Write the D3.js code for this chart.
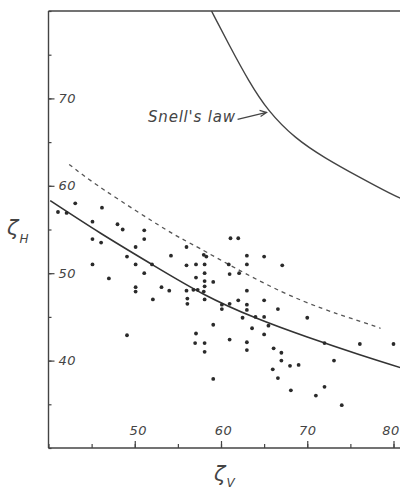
<!DOCTYPE html>
<html>
	<head>
		<meta charset = "utf-8">
		<script src = "https://cdn.jsdelivr.net/npm/d3@7/dist/d3.min.js"></script>
		<style>
			body { margin: 0; background: #fff; }
			text { font-family: "DejaVu Sans", sans-serif; font-style: italic; fill: #444; }
		</style>
	</head>
	<body>
		<script>
			"use strict";

			// scattered observations (zeta V, zeta H)
			var zetaV = [41.1, 42.1, 43.1, 46.2, 45.1, 48.0, 48.6, 51.1, 45.1, 46.1,
						 51.1, 50.1, 49.1, 45.1, 50.1, 52.0, 47.0, 51.1, 50.1, 50.1,
						 53.1, 54.0, 52.1, 49.1, 54.2, 56.0, 56.0, 57.1, 58.1, 58.0,
						 58.3, 61.1, 62.0, 63.0, 65.0, 67.1, 60.9, 63.0, 61.0, 62.1,
						 58.1, 57.1, 59.1, 56.0, 56.8, 57.3, 63.0, 58.1, 58.1, 58.0,
						 56.1, 56.1, 58.1, 62.0, 65.0, 60.1, 60.1, 61.0, 63.0, 63.0,
						 66.6, 62.5, 64.0, 65.0, 70.0, 59.1, 63.6, 65.5, 65.0, 57.1,
						 57.0, 58.1, 61.0, 63.0, 58.1, 63.0, 66.1, 67.0, 67.0, 68.0,
						 69.0, 66.0, 66.6, 59.1, 68.1, 71.0, 72.0, 76.1, 80.0, 73.1,
						 72.0, 74.0];
			var zetaH = [57.0, 56.9, 58.0, 57.5, 55.9, 55.6, 55.0, 54.9, 53.9, 53.5,
						 53.9, 53.0, 51.9, 51.0, 51.0, 51.0, 49.4, 50.0, 48.4, 47.9,
						 48.4, 48.0, 47.0, 42.9, 52.0, 53.0, 50.9, 51.0, 51.0, 52.1,
						 51.9, 54.0, 54.0, 52.0, 51.9, 50.9, 51.0, 51.0, 49.9, 50.0,
						 50.0, 49.5, 49.0, 48.0, 48.1, 48.1, 48.0, 49.1, 48.5, 47.9,
						 47.1, 46.5, 47.0, 46.9, 46.9, 46.4, 45.9, 46.5, 46.4, 45.8,
						 45.9, 44.9, 45.0, 45.0, 44.9, 44.1, 43.7, 44.0, 43.0, 43.1,
						 42.0, 42.0, 42.4, 42.1, 41.0, 41.2, 41.4, 40.9, 40.0, 39.4,
						 39.5, 39.0, 38.0, 37.9, 36.6, 36.0, 42.0, 41.9, 41.9, 40.0,
						 37.0, 34.9];

			// Snell's law curve
			var snellV = [58.9, 61.0, 63.2, 65.4, 68.6, 72.0, 76.0, 80.0, 81.0];
			var snellH = [80.0, 76.0, 72.0, 68.6, 65.4, 63.2, 61.0, 58.9, 58.5];

			// solid fitted curve
			var fitV = [40.2, 46.0, 52.0, 58.0, 64.0, 70.0, 76.0, 80.8];
			var fitH = [58.3, 54.6, 51.0, 47.6, 44.9, 42.7, 40.7, 39.2];

			// dashed curve
			var dashV = [42.4, 46.5, 53.6, 57.6, 67.0, 75.2, 78.5];
			var dashH = [62.45, 59.5, 55.0, 52.8, 47.9, 44.8, 43.7];

			var xTicks = [40, 45, 50, 55, 60, 65, 70, 75, 80];
			var xLabels = [50, 60, 70, 80];
			var xLabelShift = [3, 2, 0, -3];
			var yTicks = [30, 35, 40, 45, 50, 55, 60, 65, 70, 75, 80];
			var yLabels = [40, 50, 60, 70];

			var width = 400, height = 490;

			var svg = d3.select("body")
						.append("svg")
						.attr("width", width)
						.attr("height", height);

			var x = d3.scaleLinear().domain([40, 80]).range([48.5, 393.5]);
			var y = d3.scaleLinear().domain([30, 80]).range([448, 11]);

			// frame
			var frame = svg.append("g").attr("stroke", "#444").attr("stroke-width", 1.4).attr("fill", "none");
			frame.append("line").attr("x1", x(40)).attr("y1", y(80)).attr("x2", x(40)).attr("y2", y(30));
			frame.append("line").attr("x1", x(40)).attr("y1", y(80)).attr("x2", width).attr("y2", y(80));
			frame.append("line").attr("x1", x(40)).attr("y1", y(30)).attr("x2", width).attr("y2", y(30));

			// x ticks point up, labels sit inside the plot
			var xMinor = svg.append("g")
							.attr("transform", "translate(0," + y(30) + ")")
							.call(d3.axisTop(x).tickValues(xTicks).tickSize(4).tickFormat(""));
			var xMajor = svg.append("g")
							.attr("transform", "translate(0," + y(30) + ")")
							.call(d3.axisTop(x).tickValues(xLabels).tickSize(7).tickPadding(6).tickFormat(d3.format("d")));

			var yMinor = svg.append("g")
							.attr("transform", "translate(" + x(40) + ",0)")
							.call(d3.axisRight(y).tickValues(yTicks).tickSize(3).tickFormat(""));
			var yMajor = svg.append("g")
							.attr("transform", "translate(" + x(40) + ",0)")
							.call(d3.axisRight(y).tickValues(yLabels).tickSize(6).tickPadding(4).tickFormat(d3.format("d")));

			svg.selectAll(".domain").remove();
			svg.selectAll(".tick line").attr("stroke", "#444").attr("stroke-width", 1.2);
			svg.selectAll(".tick text")
				.attr("font-size", 13)
				.attr("font-family", "DejaVu Sans")
				.attr("font-style", "italic")
				.attr("fill", "#444")
				.style("letter-spacing", "0.5px");
			xMajor.selectAll(".tick text").attr("dx", function(d, i){ return xLabelShift[i]; });

			function pts(a, b){
				return a.map(function(v, i){ return [v, b[i]]; });
			}

			var line = d3.line()
						.x(function(d){ return x(d[0]); })
						.y(function(d){ return y(d[1]); })
						.curve(d3.curveNatural);

			var smooth = d3.line()
						.x(function(d){ return x(d[0]); })
						.y(function(d){ return y(d[1]); })
						.curve(d3.curveBasis);

			svg.append("path")
				.attr("d", smooth(pts(snellV, snellH)))
				.attr("fill", "none")
				.attr("stroke", "#444")
				.attr("stroke-width", 1.4);

			svg.append("path")
				.attr("d", line(pts(fitV, fitH)))
				.attr("fill", "none")
				.attr("stroke", "#333")
				.attr("stroke-width", 1.6);

			svg.append("path")
				.attr("d", line(pts(dashV, dashH)))
				.attr("fill", "none")
				.attr("stroke", "#555")
				.attr("stroke-width", 1.3)
				.attr("stroke-dasharray", "4,4");

			svg.selectAll("circle")
				.data(pts(zetaV, zetaH))
				.enter()
				.append("circle")
				.attr("cx", function(d){ return x(d[0]); })
				.attr("cy", function(d){ return y(d[1]); })
				.attr("r", 1.9)
				.attr("fill", "#2a2a2a");

			// Snell's law label and arrow
			svg.append("text")
				.attr("x", 148)
				.attr("y", 122)
				.attr("font-size", 15)
				.style("letter-spacing", "0.8px")
				.text("Snell's law");

			var tip = [x(65.4), y(68.4)];
			svg.append("path")
				.attr("d", "M" + (tip[0] - 30) + "," + (tip[1] + 7) + "L" + (tip[0] - 1) + "," + (tip[1]) +
						   "M" + (tip[0] - 8) + "," + (tip[1] - 2) + "L" + (tip[0] - 1) + "," + (tip[1]) + "L" + (tip[0] - 7) + "," + (tip[1] + 4))
				.attr("fill", "none")
				.attr("stroke", "#444")
				.attr("stroke-width", 1.2);

			// axis names
			var yName = svg.append("text").attr("x", 7).attr("y", 235).attr("font-size", 21).text("ζ");
			yName.append("tspan").attr("font-size", 12).attr("dx", 1).attr("dy", 8).text("H");

			var xName = svg.append("text").attr("x", 214).attr("y", 481).attr("font-size", 21).text("ζ");
			xName.append("tspan").attr("font-size", 12).attr("dx", 1).attr("dy", 6).text("V");
		</script>
	</body>
</html>
